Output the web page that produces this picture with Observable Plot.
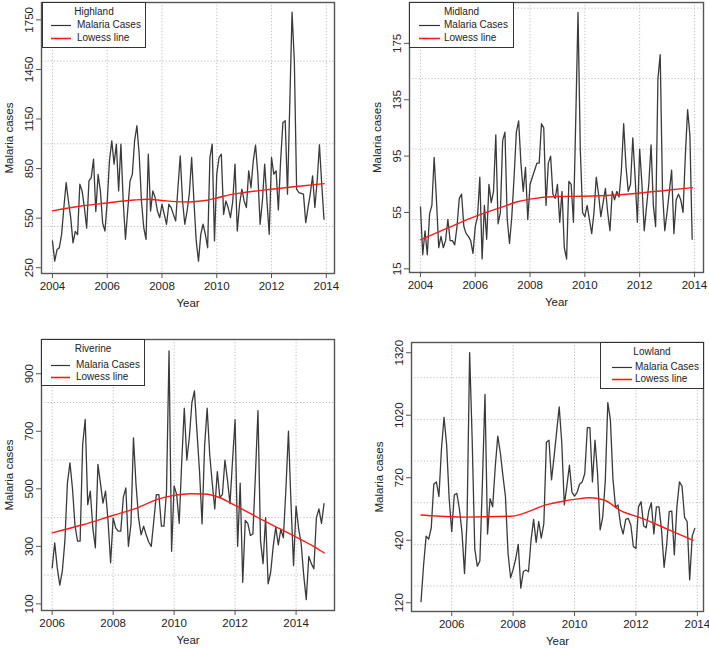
<!DOCTYPE html>
<html>
<head>
<meta charset="utf-8">
<script src="https://cdn.jsdelivr.net/npm/d3@7"></script>
<script src="https://cdn.jsdelivr.net/npm/@observablehq/plot@0.6"></script>
<style>
  html, body { margin: 0; padding: 0; background: #fff; }
  #wrap { position: relative; width: 709px; height: 648px; background: #fff; font-family: "Liberation Sans", Arial, sans-serif; color: #222; }
  .panel { position: absolute; width: 355px; height: 324px; }
  .legend { position: absolute; border: 1px solid #333; background: #fff; box-sizing: border-box; font-size: 10px; z-index: 2; }
  .legend .t { position: absolute; line-height: 10px; white-space: nowrap; }
  .legend svg { position: absolute; left: 0; top: 0; overflow: visible; }
</style>
</head>
<body>
<div id="wrap"></div>
<script>
// ---------------- DATA ----------------
// Highland: monthly malaria cases, Jan 2004 - Dec 2013
const highlandStart = 2004;
const highlandCases = [
  412,290,360,370,450,614,765,654,553,400,470,450,
  755,715,614,490,775,795,907,590,815,715,520,472,
  650,900,1018,877,998,715,998,654,422,600,775,815,
  1018,1109,937,654,493,422,937,593,715,675,593,553,
  634,573,513,634,614,573,533,735,927,654,513,593,
  700,917,654,412,290,452,513,452,371,917,998,412,
  816,917,937,573,654,614,553,650,877,472,634,725,
  654,614,836,735,897,992,816,513,654,877,654,452,
  917,816,836,600,900,1129,1140,695,1240,1796,1500,725,
  705,700,695,523,614,700,806,614,775,994,755,543
];
const highlandLowessYear  = [2004, 2005, 2006, 2007, 2007.5, 2008, 2008.5, 2009, 2009.5, 2010, 2010.5, 2011, 2012, 2013, 2013.92];
const highlandLowessValue = [594, 622, 642, 660, 664, 657, 650, 648, 655, 672, 692, 705, 725, 743, 759];

// Midland: monthly malaria cases, Jan 2004 - Dec 2013
const midlandStart = 2004;
const midlandCases = [
  59,25,42,25,54,60,94,64,30,38,30,35,
  50,35,35,32,45,65,68,45,40,38,35,26,
  45,52,80,22,60,36,75,62,70,110,47,55,
  106,112,50,33,52,80,112,120,90,70,87,50,
  75,80,85,90,90,118,115,60,90,95,68,65,
  75,48,70,30,22,77,75,48,120,197,100,55,
  52,60,50,40,55,80,68,52,62,72,55,42,
  70,64,70,66,85,118,88,70,75,108,80,48,
  100,75,42,59,75,103,60,45,150,167,70,42,
  55,70,85,40,64,68,64,55,95,128,110,36
];
const midlandLowessYear  = [2004, 2005, 2006, 2007, 2007.5, 2008, 2009, 2010, 2011, 2012, 2013, 2013.92];
const midlandLowessValue = [35.6, 44, 52.2, 59, 62.4, 64.5, 66.3, 66.5, 67.2, 68.8, 70.8, 72.6];

// Riverine: monthly malaria cases, Jan 2006 - Dec 2014
const riverineStart = 2006;
const riverineCases = [
  225,312,225,165,214,318,520,590,500,370,318,318,
  654,741,445,492,364,295,585,520,450,492,388,243,
  399,364,353,353,470,503,300,376,677,515,400,340,
  370,340,315,300,388,480,480,370,370,492,979,283,
  510,480,380,596,780,600,680,800,840,697,560,378,
  650,780,620,520,430,560,470,480,600,530,448,600,
  740,300,520,175,390,380,338,343,550,772,320,240,
  400,170,210,300,367,305,360,330,500,700,450,233,
  440,361,310,200,115,265,240,222,400,430,380,448
];
const riverineLowessYear  = [2006, 2007, 2008, 2008.8, 2009.45, 2010, 2010.5, 2011, 2011.5, 2012, 2013, 2014, 2014.6, 2014.92];
const riverineLowessValue = [347, 375, 408, 434, 463, 477, 483, 482, 469, 442, 386, 332, 298, 277];

// Lowland: monthly malaria cases, Jan 2005 - Dec 2013
const lowlandStart = 2005;
const lowlandCases = [
  125,300,440,425,480,690,700,630,860,1010,880,620,
  461,637,645,570,460,260,520,1320,900,380,295,320,
  700,1120,450,620,580,770,920,840,730,630,360,240,
  280,330,400,190,270,277,269,420,520,410,510,430,
  500,890,900,710,820,940,1060,890,590,680,780,650,
  632,650,690,700,740,960,960,700,900,740,470,530,
  700,1080,1000,717,580,589,493,450,520,525,493,390,
  380,580,605,490,480,560,600,450,580,580,470,290,
  397,557,560,350,580,700,680,530,510,230,440,477
];
const lowlandLowessYear  = [2005, 2005.5, 2006.4, 2007.92, 2009.13, 2009.54, 2010, 2010.47, 2010.96, 2011.5, 2012.2, 2013.04, 2013.86];
const lowlandLowessValue = [541, 536, 531, 535, 592, 605, 616, 624, 613, 562, 525, 472, 420];

// Axis ticks and grid values
const xTicksA = [2004, 2006, 2008, 2010, 2012, 2014];
const xTicksB = [2006, 2008, 2010, 2012, 2014];
const highlandYTicks = [250, 550, 850, 1150, 1450, 1750];
const highlandYGrid  = [500, 1000, 1500];
const midlandYTicks  = [15, 55, 95, 135, 175];
const midlandYGrid   = [50, 100, 150, 200];
const riverineYTicks = [100, 300, 500, 700, 900];
const riverineYGrid  = [200, 400, 600, 800];
const lowlandYTicks  = [120, 420, 720, 1020, 1320];
const lowlandYGrid   = [200, 400, 600, 800, 1000, 1200];

const legendLabels = ["Malaria Cases", "Lowess line"];
const legendColors = ["#333333", "#ff1a1a"];

// ---------------- DRAWING ----------------
const toSeries = (start, vals) => vals.map((v, i) => ({t: start + i / 12, v}));
const toLowess = (ys, vs) => ys.map((y, i) => ({t: y, v: vs[i]}));

const gridStyle = {stroke: "#bdbdbd", strokeOpacity: 1, strokeWidth: 1, strokeDasharray: "1.2,2"};

function makePanel(o) {
  return Plot.plot({
    width: 355, height: 324,
    marginLeft: o.ml, marginRight: o.mr, marginTop: o.mt, marginBottom: o.mb,
    style: {fontFamily: "'Liberation Sans', Arial, sans-serif", fontSize: "11px", color: "#222", background: "transparent", overflow: "visible"},
    x: {type: "linear", domain: o.xd},
    y: {type: "linear", domain: o.yd},
    marks: [
      Plot.gridX(o.xt, gridStyle),
      Plot.gridY(o.yg, gridStyle),
      Plot.line(o.series, {x: "t", y: "v", stroke: "#3a3a3a", strokeWidth: 1.3}),
      Plot.line(o.lowess, {x: "t", y: "v", stroke: legendColors[1], strokeWidth: 1.4, curve: "monotone-x"}),
      Plot.frame({stroke: "#555", strokeWidth: 1.4}),
      Plot.axisX(o.xt, {tickFormat: d => String(d), tickSize: 5, tickPadding: 3, stroke: "#555",
        label: "Year", labelAnchor: "center", labelArrow: "none", labelOffset: o.xlo, fontSize: 11.5}),
      Plot.axisY(o.yt, {tickFormat: d => String(d), tickSize: 5, tickPadding: 4, tickRotate: -90, stroke: "#555",
        label: "Malaria cases", labelAnchor: "center", labelArrow: "none", labelOffset: o.ylo, fontSize: 11.5})
    ]
  });
}

const SVGNS = "http://www.w3.org/2000/svg";
function makeLegend(parent, L, title) {
  const box = document.createElement("div");
  box.className = "legend";
  Object.assign(box.style, {left: L.x + "px", top: L.y + "px", width: L.w + "px", height: L.h + "px"});
  const svg = document.createElementNS(SVGNS, "svg");
  svg.setAttribute("width", L.w);
  svg.setAttribute("height", L.h);
  box.appendChild(svg);
  const t = document.createElement("div");
  t.className = "t"; t.textContent = title;
  Object.assign(t.style, {left: "0px", width: "100%", textAlign: "center", top: (L.ty - 5) + "px"});
  box.appendChild(t);
  legendLabels.forEach((lab, i) => {
    const ln = document.createElementNS(SVGNS, "line");
    ln.setAttribute("x1", L.sx);
    ln.setAttribute("x2", L.sx + L.sw);
    ln.setAttribute("y1", L.ry[i] + 0.5);
    ln.setAttribute("y2", L.ry[i] + 0.5);
    ln.setAttribute("stroke", legendColors[i]);
    ln.setAttribute("stroke-width", i ? 1.6 : 1.2);
    svg.appendChild(ln);
    const tx = document.createElement("div");
    tx.className = "t"; tx.textContent = lab;
    Object.assign(tx.style, {left: L.tx + "px", top: (L.ry[i] - 5) + "px"});
    box.appendChild(tx);
  });
  parent.appendChild(box);
}

const wrap = document.getElementById("wrap");
const panels = [
  {pos: [0, 0], title: "Highland", ml: 41, mr: 21, mt: 2, mb: 51, xd: [2003.6, 2014.3], yd: [215, 1855],
   xt: xTicksA, yt: highlandYTicks, yg: highlandYGrid, xlo: 33, ylo: 37,
   series: toSeries(highlandStart, highlandCases), lowess: toLowess(highlandLowessYear, highlandLowessValue),
   leg: {x: 42, y: 2, w: 104, h: 46, ty: 9, sx: 8, sw: 20, tx: 34, ry: [22, 35]}},
  {pos: [354, 0], title: "Midland", ml: 55, mr: 6, mt: 2, mb: 52, xd: [2003.6, 2014.33], yd: [12.4, 204],
   xt: xTicksA, yt: midlandYTicks, yg: midlandYGrid, xlo: 33, ylo: 37,
   series: toSeries(midlandStart, midlandCases), lowess: toLowess(midlandLowessYear, midlandLowessValue),
   leg: {x: 55, y: 2, w: 105, h: 46, ty: 9, sx: 9, sw: 21, tx: 34, ry: [22, 35]}},
  {pos: [0, 324], title: "Riverine", ml: 41, mr: 21, mt: 15, mb: 38, xd: [2005.65, 2015.26], yd: [77, 1019],
   xt: xTicksB, yt: riverineYTicks, yg: riverineYGrid, xlo: 33, ylo: 37,
   series: toSeries(riverineStart, riverineCases), lowess: toLowess(riverineLowessYear, riverineLowessValue),
   leg: {x: 41, y: 15, w: 104, h: 47, ty: 9, sx: 9, sw: 19, tx: 34, ry: [25, 37]}},
  {pos: [354, 324], title: "Lowland", ml: 57, mr: 6, mt: 18, mb: 37, xd: [2004.69, 2014.2], yd: [78, 1369],
   xt: xTicksB, yt: lowlandYTicks, yg: lowlandYGrid, xlo: 33, ylo: 37,
   series: toSeries(lowlandStart, lowlandCases), lowess: toLowess(lowlandLowessYear, lowlandLowessValue),
   leg: {x: 246, y: 18, w: 104, h: 47, ty: 9, sx: 11, sw: 20, tx: 34, ry: [24, 36]}}
];

panels.forEach(p => {
  const div = document.createElement("div");
  div.className = "panel";
  div.style.left = p.pos[0] + "px";
  div.style.top = p.pos[1] + "px";
  div.appendChild(makePanel(p));
  makeLegend(div, p.leg, p.title);
  wrap.appendChild(div);
});
</script>
</body>
</html>
